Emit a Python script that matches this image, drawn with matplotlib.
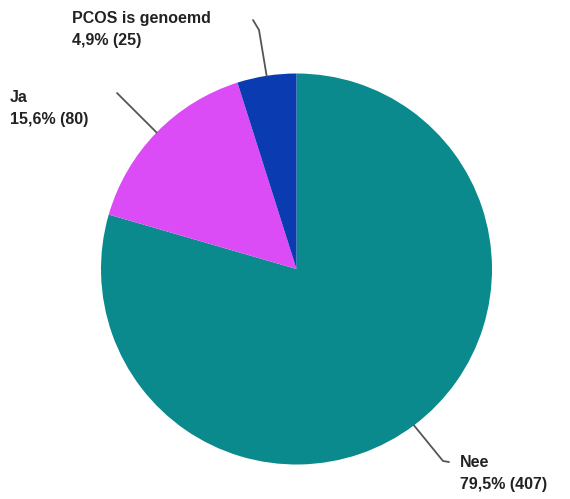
import numpy as np
import matplotlib
matplotlib.use("Agg")
import matplotlib.pyplot as plt

categories = ["Nee", "Ja", "PCOS is genoemd"]
counts = [407, 80, 25]
percents = ["79,5%", "15,6%", "4,9%"]
colors = ["#0a8a8c", "#dc4cf6", "#0b3bb0"]

W, H = 570, 499
fig = plt.figure(figsize=(W / 100, H / 100), dpi=100)
ax = fig.add_axes([0, 0, 1, 1])

cx, cy, r = 296.5, H - 269, 195.5
wedges, _ = ax.pie(counts, colors=colors, startangle=90, counterclock=False,
                   center=(cx, cy), radius=r, frame=True,
                   wedgeprops=dict(linewidth=0))
ax.set_xlim(0, W)
ax.set_ylim(0, H)
ax.set_aspect("equal")
ax.axis("off")

# label layout (pixel coords from top-left): text anchor, leader end
layout = {
    "Nee": dict(text=(460, 455), line=[(449, 462)], bend=(443, 461)),
    "Ja": dict(text=(10, 90), line=[(117, 93)], bend=None),
    "PCOS is genoemd": dict(text=(72, 11), line=[(253, 20)], bend=(259, 30)),
}

for w, cat, pct, n in zip(wedges, categories, percents, counts):
    ang = np.deg2rad((w.theta1 + w.theta2) / 2)
    ex, ey = cx + r * np.cos(ang), cy + r * np.sin(ang)
    L = layout[cat]
    pts = [(ex, ey)]
    if L["bend"] is not None:
        bx, by = L["bend"]
        pts.append((bx, H - by))
    for (px, py) in L["line"]:
        pts.append((px, H - py))
    xs, ys = zip(*pts)
    ax.plot(xs, ys, color="#555555", lw=1.3, solid_capstyle="round",
            solid_joinstyle="round")
    tx, ty = L["text"]
    ax.text(tx, H - ty, f"{cat}\n{pct} ({n})", ha="left", va="top",
            fontsize=11.5, fontweight="bold", family="Liberation Sans",
            color="#222222", linespacing=1.6)

fig.savefig("out.png", dpi=100)
